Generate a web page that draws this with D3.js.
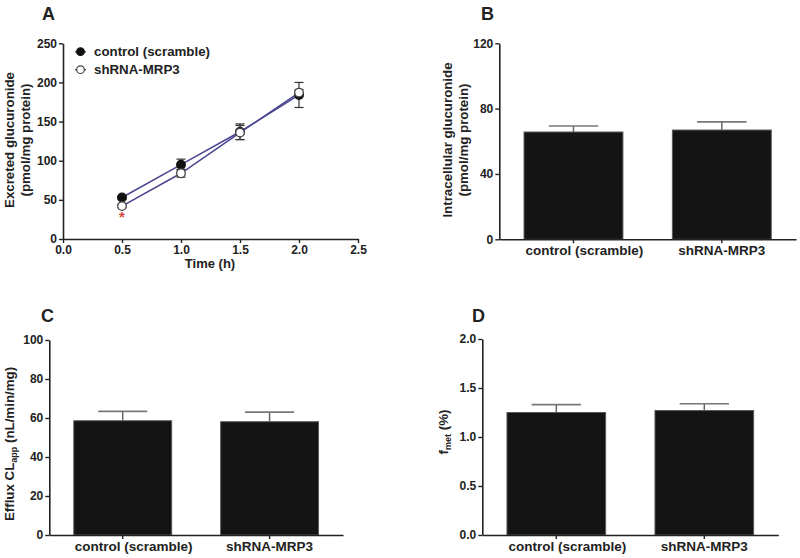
<!DOCTYPE html>
<html><head><meta charset="utf-8">
<script src="https://cdn.jsdelivr.net/npm/d3@7"></script>
<style>
body{margin:0;background:#fff;}
text{font-family:"Liberation Sans",Arial,sans-serif;font-weight:bold;fill:#222;}
</style></head>
<body><svg id="c" width="800" height="558"></svg>
<script>
// Panel A data
const timePoints = [0.5, 1.0, 1.5, 2.0];
const controlMean = [53, 95, 137, 184];
const controlErr = [2, 7, 10, 16];
const shrnaMean = [42, 84, 136, 187];
const shrnaErr = [2, 5, 9, 4];
const xTicksA = [0, 0.5, 1.0, 1.5, 2.0, 2.5];
const yTicksA = [0, 50, 100, 150, 200, 250];
const seriesNames = ["control (scramble)", "shRNA-MRP3"];
// Bar panels
const groups = ["control (scramble)", "shRNA-MRP3"];
const intracellMean = [65.7, 66.9];
const intracellErr = [3.7, 5.0];
const effluxMean = [58.6, 58.1];
const effluxErr = [4.8, 4.9];
const fmetMean = [1.25, 1.27];
const fmetErr = [0.08, 0.07];
const yTicksB = [0, 40, 80, 120];
const yTicksC = [0, 20, 40, 60, 80, 100];
const yTicksD = [0, 0.5, 1.0, 1.5, 2.0];

const svg = d3.select("#c");
const axisColor = "#222";
const lineColor = "#4a4690";

function styleAxis(g){
  g.select(".domain").attr("stroke", axisColor).attr("stroke-width", 1.6);
  g.selectAll(".tick line").attr("stroke", axisColor).attr("stroke-width", 1.4);
  g.selectAll(".tick text").attr("font-size", 12).attr("fill", "#222")
    .attr("font-family", '"Liberation Sans",Arial,sans-serif').attr("font-weight", "bold");
}

// ---------- Panel A ----------
const xA = d3.scaleLinear().domain([0, 2.5]).range([63, 358]);
const yA = d3.scaleLinear().domain([0, 250]).range([239, 43.3]);
svg.append("g").attr("transform", "translate(0,239)")
  .call(d3.axisBottom(xA).tickValues(xTicksA).tickFormat(d3.format(".1f")).tickSize(4).tickPadding(2).tickSizeOuter(0))
  .call(styleAxis);
svg.append("g").attr("transform", "translate(63,0)")
  .call(d3.axisLeft(yA).tickValues(yTicksA).tickSize(4).tickPadding(2).tickSizeOuter(0))
  .call(styleAxis);

const seriesA = [
  {name: seriesNames[0], mean: controlMean, err: controlErr, filled: true},
  {name: seriesNames[1], mean: shrnaMean, err: shrnaErr, filled: false}
];
const line = d3.line().x(d => xA(d.t)).y(d => yA(d.v));
seriesA.forEach(s => {
  const pts = timePoints.map((t, i) => ({t, v: s.mean[i], e: s.err[i]}));
  svg.append("path").datum(pts).attr("d", line).attr("fill", "none")
    .attr("stroke", lineColor).attr("stroke-width", 1.5);
  const eg = svg.append("g");
  pts.forEach(p => {
    eg.append("line").attr("x1", xA(p.t)).attr("x2", xA(p.t))
      .attr("y1", yA(p.v - p.e)).attr("y2", yA(p.v + p.e)).attr("stroke", "#333").attr("stroke-width", 1.2);
    [p.v - p.e, p.v + p.e].forEach(v => eg.append("line")
      .attr("x1", xA(p.t) - 4.5).attr("x2", xA(p.t) + 4.5)
      .attr("y1", yA(v)).attr("y2", yA(v)).attr("stroke", "#333").attr("stroke-width", 1.2));
  });
  svg.append("g").selectAll("circle").data(pts).join("circle")
    .attr("cx", d => xA(d.t)).attr("cy", d => yA(d.v)).attr("r", 4.3)
    .attr("fill", s.filled ? "#111" : "#fff").attr("stroke", s.filled ? "#111" : "#444").attr("stroke-width", 1.3);
});
// significance asterisk
svg.append("text").attr("x", xA(timePoints[0])).attr("y", yA(shrnaMean[0]) + 16)
  .attr("text-anchor", "middle").attr("font-size", 15).style("fill", "#d24a3a").text("*");
// legend
seriesA.forEach((s, i) => {
  const y = 51.7 + i * 18;
  svg.append("line").attr("x1", 75).attr("x2", 86).attr("y1", y).attr("y2", y).attr("stroke", lineColor).attr("stroke-width", 1.3);
  svg.append("circle").attr("cx", 80.5).attr("cy", y).attr("r", 3.8)
    .attr("fill", s.filled ? "#111" : "#fff").attr("stroke", s.filled ? "#111" : "#444").attr("stroke-width", 1.2);
  svg.append("text").attr("x", 94).attr("y", y + 4.6).attr("font-size", 13.3).text(s.name);
});
svg.append("text").attr("x", 210).attr("y", 268).attr("text-anchor", "middle").attr("font-size", 13).text("Time (h)");
svg.append("text").attr("transform", "translate(14,140) rotate(-90)").attr("text-anchor", "middle").attr("font-size", 13.3).text("Excreted glucuronide");
svg.append("text").attr("transform", "translate(30,140) rotate(-90)").attr("text-anchor", "middle").attr("font-size", 13.3).text("(pmol/mg protein)");
svg.append("text").attr("x", 42).attr("y", 19.5).attr("font-size", 18).text("A");

// ---------- Bar panel helper ----------
function barPanel(opt){
  const x = d3.scaleBand().domain(groups).range([opt.x0, opt.x1]).paddingInner(1/3).paddingOuter(1/6);
  const y = d3.scaleLinear().domain([0, opt.ymax]).range([opt.y0, opt.ytop]);
  const g = svg.append("g");
  g.selectAll("rect").data(groups).join("rect")
    .attr("x", d => x(d)).attr("width", x.bandwidth())
    .attr("y", (d, i) => y(opt.mean[i])).attr("height", (d, i) => opt.y0 - y(opt.mean[i]))
    .attr("fill", "#141414").attr("stroke", "#5a5a5a").attr("stroke-width", 1);
  groups.forEach((d, i) => {
    const cx = x(d) + x.bandwidth() / 2;
    g.append("line").attr("x1", cx).attr("x2", cx).attr("y1", y(opt.mean[i])).attr("y2", y(opt.mean[i] + opt.err[i]))
      .attr("stroke", "#666").attr("stroke-width", 1.5);
    g.append("line").attr("x1", cx - x.bandwidth() / 4).attr("x2", cx + x.bandwidth() / 4)
      .attr("y1", y(opt.mean[i] + opt.err[i])).attr("y2", y(opt.mean[i] + opt.err[i]))
      .attr("stroke", "#777").attr("stroke-width", 1.6);
  });
  svg.append("g").attr("transform", `translate(0,${opt.y0})`)
    .call(d3.axisBottom(x).tickSize(4).tickPadding(2).tickSizeOuter(0))
    .call(styleAxis)
    .call(a => a.selectAll(".tick text").attr("font-size", 13.5).attr("dx", (d, i) => i === 0 ? 11 : 0));
  svg.append("g").attr("transform", `translate(${opt.x0},0)`)
    .call(d3.axisLeft(y).tickValues(opt.ticks).tickFormat(opt.fmt).tickSize(4).tickPadding(2).tickSizeOuter(0))
    .call(styleAxis);
  svg.append("text").attr("x", opt.lx).attr("y", opt.ly).attr("font-size", 18).text(opt.letter);
  return g;
}

barPanel({x0: 499.3, x1: 796, y0: 239.3, ytop: 43.3, ymax: 120, mean: intracellMean, err: intracellErr,
  ticks: yTicksB, fmt: d3.format("d"), letter: "B", lx: 481, ly: 19.5});
svg.append("text").attr("transform", "translate(452,140) rotate(-90)").attr("text-anchor", "middle").attr("font-size", 13.3).text("Intracellular glucuronide");
svg.append("text").attr("transform", "translate(468,140) rotate(-90)").attr("text-anchor", "middle").attr("font-size", 13.3).text("(pmol/mg protein)");

barPanel({x0: 49.3, x1: 343, y0: 535, ytop: 340, ymax: 100, mean: effluxMean, err: effluxErr,
  ticks: yTicksC, fmt: d3.format("d"), letter: "C", lx: 41, ly: 322});
const tC = svg.append("text").attr("transform", "translate(14,444) rotate(-90)").attr("text-anchor", "middle").attr("font-size", 13.3);
tC.append("tspan").text("Efflux CL");
tC.append("tspan").attr("font-size", 9).attr("dy", 3).text("app");
tC.append("tspan").attr("dy", -3).text(" (nL/min/mg)");

barPanel({x0: 482.3, x1: 778.3, y0: 535, ytop: 339, ymax: 2.0, mean: fmetMean, err: fmetErr,
  ticks: yTicksD, fmt: d3.format(".1f"), letter: "D", lx: 472, ly: 322});
const tD = svg.append("text").attr("transform", "translate(448,432) rotate(-90)").attr("text-anchor", "middle").attr("font-size", 13.3);
tD.append("tspan").text("f");
tD.append("tspan").attr("font-size", 9).attr("dy", 3).text("met");
tD.append("tspan").attr("dy", -3).text(" (%)");
</script></body></html>
